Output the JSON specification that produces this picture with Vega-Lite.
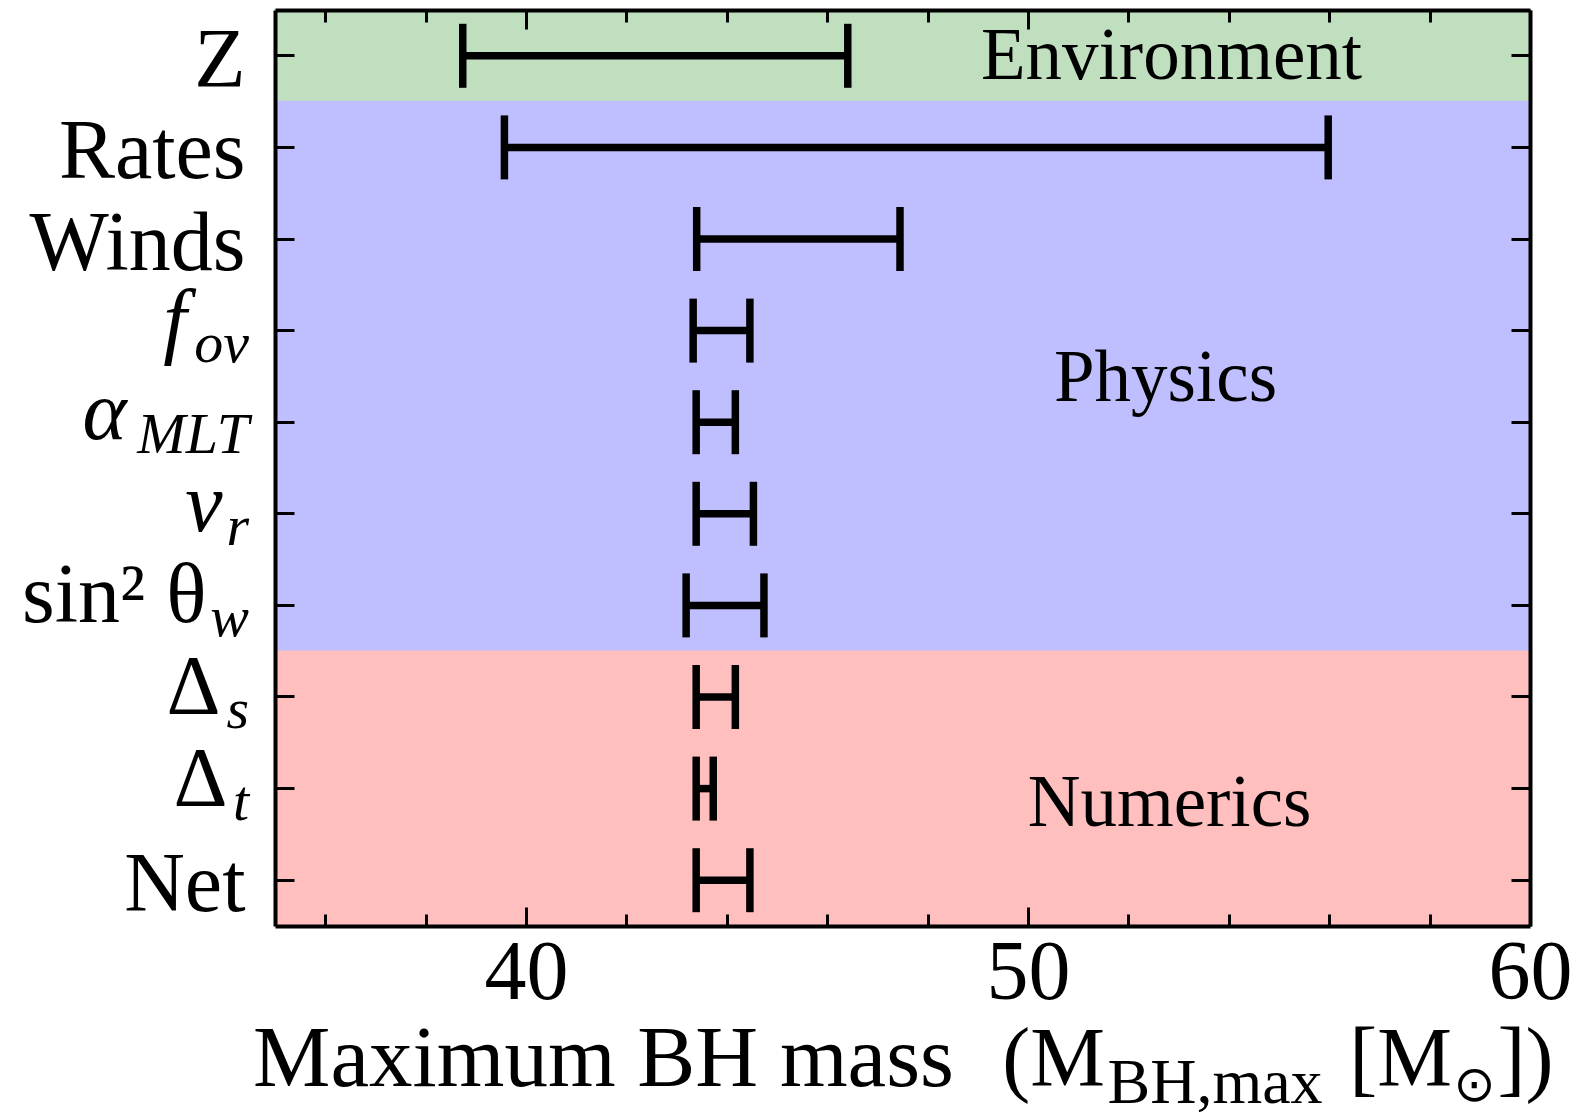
{
  "$schema": "https://vega.github.io/schema/vega-lite/v6.json",
  "width": 1255,
  "height": 916,
  "autosize": {"type": "none"},
  "padding": {"left": 275, "top": 10, "right": 50, "bottom": 186},
  "background": "white",
  "data": {
    "values": [
      {"param": "Z", "group": "Environment", "lo": 38.74, "hi": 46.41, "sub": ""},
      {"param": "Rates", "group": "Physics", "lo": 39.57, "hi": 55.98, "sub": ""},
      {"param": "Winds", "group": "Physics", "lo": 43.40, "hi": 47.45, "sub": ""},
      {"param": "f_ov", "group": "Physics", "lo": 43.33, "hi": 44.46, "sub": "ov"},
      {"param": "alpha_MLT", "group": "Physics", "lo": 43.39, "hi": 44.17, "sub": "MLT"},
      {"param": "nu_r", "group": "Physics", "lo": 43.39, "hi": 44.53, "sub": "r"},
      {"param": "sin2theta_w", "group": "Physics", "lo": 43.19, "hi": 44.74, "sub": "w"},
      {"param": "Delta_s", "group": "Numerics", "lo": 43.39, "hi": 44.17, "sub": "s"},
      {"param": "Delta_t", "group": "Numerics", "lo": 43.39, "hi": 43.73, "sub": "t"},
      {"param": "Net", "group": "Numerics", "lo": 43.39, "hi": 44.46, "sub": ""}
    ]
  },
  "config": {
    "view": {"stroke": null},
    "font": "Liberation Serif",
    "axis": {
      "grid": false,
      "labelFont": "Liberation Serif",
      "titleFont": "Liberation Serif",
      "labelColor": "black",
      "titleColor": "black",
      "tickColor": "black",
      "domainColor": "black",
      "titleFontWeight": "normal",
      "labelFontSize": 84,
      "titleFontSize": 84,
      "labelLimit": 500,
      "titleLimit": 1000,
      "tickWidth": 3,
      "domainWidth": 4
    }
  },
  "resolve": {"axis": {"x": "independent", "y": "independent"}},
  "layer": [
    {
      "mark": {"type": "rect", "strokeWidth": 1.5},
      "encoding": {
        "y": {
          "field": "param", "type": "nominal",
          "scale": {"domain": ["Z","Rates","Winds","f_ov","alpha_MLT","nu_r","sin2theta_w","Delta_s","Delta_t","Net"], "type": "band", "paddingInner": 0, "paddingOuter": 0},
          "axis": {"orient": "right", "labels": false, "title": null, "tickSize": -19, "domain": true, "zindex": 2}
        },
        "x": {
          "datum": 35, "type": "quantitative",
          "scale": {"domain": [35, 60], "nice": false, "zero": false},
          "axis": {
            "orient": "top", "values": [36,38,40,42,44,46,48,50,52,54,56,58,60],
            "labels": false, "title": null, "domain": true, "zindex": 2,
            "tickSize": {"condition": {"test": "datum.value % 10 == 0", "value": -19}, "value": -12}
          }
        },
        "x2": {"datum": 60},
        "color": {
          "field": "group", "type": "nominal",
          "scale": {"domain": ["Environment", "Physics", "Numerics"], "range": ["#bfdfbf", "#bfbfff", "#ffbfbf"]},
          "legend": null
        },
        "stroke": {
          "field": "group", "type": "nominal",
          "scale": {"domain": ["Environment", "Physics", "Numerics"], "range": ["#bfdfbf", "#bfbfff", "#ffbfbf"]},
          "legend": null
        }
      }
    },
    {
      "mark": {"type": "rule", "strokeWidth": 7.5, "color": "black"},
      "encoding": {
        "y": {
          "field": "param", "type": "nominal",
          "scale": {"domain": ["Z","Rates","Winds","f_ov","alpha_MLT","nu_r","sin2theta_w","Delta_s","Delta_t","Net"]},
          "axis": {
            "orient": "left", "title": null, "tickSize": -19, "domain": true, "zindex": 2,
            "labelAlign": "right", "labelBaseline": "alphabetic", "labelFontSize": 84, "labelLimit": 500,
            "labelExpr": "datum.value == 'f_ov' ? 'f' : datum.value == 'alpha_MLT' ? 'α' : datum.value == 'nu_r' ? 'ν' : datum.value == 'sin2theta_w' ? 'sin² θ' : (datum.value == 'Delta_s' || datum.value == 'Delta_t') ? 'Δ' : datum.value",
            "labelFontStyle": {"condition": {"test": "datum.value == 'f_ov' || datum.value == 'alpha_MLT' || datum.value == 'nu_r'", "value": "italic"}, "value": "normal"},
            "labelOffset": {"condition": {"test": "indexof(['f_ov','alpha_MLT','nu_r','sin2theta_w','Delta_s','Delta_t'], datum.value) >= 0", "value": 17}, "value": 31},
            "labelPadding": {
              "condition": [
                {"test": "datum.value == 'f_ov'", "value": 108},
                {"test": "datum.value == 'alpha_MLT'", "value": 168},
                {"test": "datum.value == 'nu_r'", "value": 72},
                {"test": "datum.value == 'sin2theta_w'", "value": 88},
                {"test": "datum.value == 'Delta_s'", "value": 74},
                {"test": "datum.value == 'Delta_t'", "value": 67}
              ],
              "value": 49
            }
          }
        },
        "x": {
          "field": "lo", "type": "quantitative",
          "scale": {"domain": [35, 60], "nice": false, "zero": false},
          "axis": {
            "orient": "bottom", "values": [36,38,40,42,44,46,48,50,52,54,56,58,60], "zindex": 2,
            "labelExpr": "datum.value % 10 == 0 ? datum.label : ''",
            "tickSize": {"condition": {"test": "datum.value % 10 == 0", "value": -19}, "value": -12},
            "labelPadding": 91, "labelBaseline": "alphabetic", "labelFlush": false, "labelOverlap": false,
            "labelFontSize": 84, "domain": true,
            "title": "Maximum BH mass", "titleX": 328, "titleY": 159, "titleAlign": "center", "titleBaseline": "alphabetic", "titleFontSize": 87
          }
        },
        "x2": {"field": "hi"}
      }
    },
    {
      "mark": {"type": "tick", "thickness": 7.5, "size": 64, "color": "black", "opacity": 1},
      "encoding": {
        "y": {"field": "param", "type": "nominal", "scale": {"domain": ["Z","Rates","Winds","f_ov","alpha_MLT","nu_r","sin2theta_w","Delta_s","Delta_t","Net"]}, "axis": null},
        "x": {
          "field": "lo", "type": "quantitative",
          "axis": {"orient": "bottom", "labels": false, "ticks": false, "domain": false, "title": "(M", "titleX": 778, "titleY": 159, "titleAlign": "center", "titleBaseline": "alphabetic", "titleFontSize": 84}
        }
      }
    },
    {
      "mark": {"type": "tick", "thickness": 7.5, "size": 64, "color": "black", "opacity": 1},
      "encoding": {
        "y": {"field": "param", "type": "nominal", "scale": {"domain": ["Z","Rates","Winds","f_ov","alpha_MLT","nu_r","sin2theta_w","Delta_s","Delta_t","Net"]}, "axis": null},
        "x": {
          "field": "hi", "type": "quantitative",
          "axis": {"orient": "bottom", "labels": false, "ticks": false, "domain": false, "title": "BH,max", "titleX": 832, "titleY": 176, "titleAlign": "left", "titleBaseline": "alphabetic", "titleFontSize": 64}
        }
      }
    },
    {
      "mark": {"type": "text", "align": "right", "baseline": "alphabetic", "dx": -26, "dy": 31, "fontSize": 58, "fontStyle": "italic", "font": "Liberation Serif", "color": "black"},
      "encoding": {
        "y": {"field": "param", "type": "nominal", "scale": {"domain": ["Z","Rates","Winds","f_ov","alpha_MLT","nu_r","sin2theta_w","Delta_s","Delta_t","Net"]}, "axis": null},
        "x": {"datum": 35, "type": "quantitative", "axis": null},
        "text": {"field": "sub"}
      }
    },
    {
      "data": {"values": [{"note": "Environment", "pos": 52.86, "row": "Z"}]},
      "mark": {"type": "text", "fontSize": 73, "baseline": "alphabetic", "align": "center", "dy": 23, "color": "black", "font": "Liberation Serif"},
      "encoding": {
        "y": {"field": "row", "type": "nominal", "scale": {"domain": ["Z","Rates","Winds","f_ov","alpha_MLT","nu_r","sin2theta_w","Delta_s","Delta_t","Net"]}, "axis": null},
        "x": {
          "field": "pos", "type": "quantitative",
          "axis": {"orient": "bottom", "labels": false, "ticks": false, "domain": false, "title": "[M", "titleX": 1125, "titleY": 159, "titleAlign": "center", "titleBaseline": "alphabetic", "titleFontSize": 84}
        },
        "text": {"field": "note"}
      }
    },
    {
      "data": {"values": [{"note": "Physics", "pos": 52.74, "row": "alpha_MLT"}]},
      "mark": {"type": "text", "fontSize": 73, "baseline": "alphabetic", "align": "center", "dy": -21, "color": "black", "font": "Liberation Serif"},
      "encoding": {
        "y": {"field": "row", "type": "nominal", "scale": {"domain": ["Z","Rates","Winds","f_ov","alpha_MLT","nu_r","sin2theta_w","Delta_s","Delta_t","Net"]}, "axis": null},
        "x": {
          "field": "pos", "type": "quantitative",
          "axis": {"orient": "bottom", "labels": false, "ticks": false, "domain": false, "title": "⊙", "titleFont": "DejaVu Sans", "titleX": 1199, "titleY": 174, "titleAlign": "center", "titleBaseline": "alphabetic", "titleFontSize": 50}
        },
        "text": {"field": "note"}
      }
    },
    {
      "data": {"values": [{"note": "Numerics", "pos": 52.82, "row": "Delta_t"}]},
      "mark": {"type": "text", "fontSize": 73, "baseline": "alphabetic", "align": "center", "dy": 37, "color": "black", "font": "Liberation Serif"},
      "encoding": {
        "y": {"field": "row", "type": "nominal", "scale": {"domain": ["Z","Rates","Winds","f_ov","alpha_MLT","nu_r","sin2theta_w","Delta_s","Delta_t","Net"]}, "axis": null},
        "x": {
          "field": "pos", "type": "quantitative",
          "axis": {"orient": "bottom", "labels": false, "ticks": false, "domain": false, "title": "])", "titleX": 1250, "titleY": 159, "titleAlign": "center", "titleBaseline": "alphabetic", "titleFontSize": 84}
        },
        "text": {"field": "note"}
      }
    }
  ]
}
